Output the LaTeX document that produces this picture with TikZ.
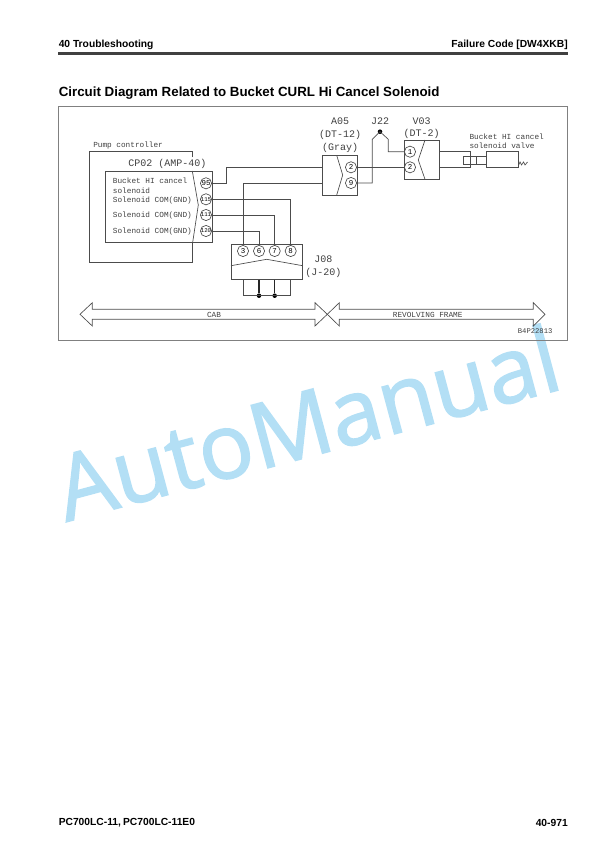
\documentclass[tikz,border=0pt]{standalone}
\usepackage{fontspec}
\setmainfont{Liberation Sans}
\newfontfamily\cadfont{Liberation Mono}
\newfontfamily\markfont[FakeBold=1.6]{Open Sans}
\definecolor{markblue}{HTML}{B3DFF5}
\begin{document}
\begin{tikzpicture}[x=0.75pt,y=-0.75pt,
  wire/.style={draw=black!70,line width=0.5pt},
  heavywire/.style={draw=black!85,line width=0.9pt},
  box/.style={draw=black!70,line width=0.6pt,inner sep=0pt},
  pin/.style={circle,draw=black!70,line width=0.5pt,minimum size=8.4pt,inner sep=0pt,font=\cadfont\fontsize{5.6}{6}\selectfont},
  widepin/.style={pin,font=\cadfont\fontsize{4.3}{5}\selectfont},
  dot/.style={circle,fill=black,minimum size=3.4pt,inner sep=0pt},
  cadbig/.style={inner sep=0pt,text=black!75,font=\cadfont\fontsize{7.5}{9}\selectfont},
  cadsmall/.style={inner sep=0pt,text=black!75,font=\cadfont\fontsize{5.8}{7}\selectfont},
  pagehead/.style={inner sep=0pt,font=\bfseries\fontsize{7.7}{10}\selectfont}]
\path [use as bounding box] (0,0) rectangle (612,864);
%% watermark
\node (watermark) [anchor=base west,rotate=15,inner sep=0pt,text=markblue,font=\markfont\fontsize{68}{70}\selectfont] at (66,522) {AutoManual};
%% page texts
\node (headl) [pagehead,anchor=west] at (58.5,44.7) {40 Troubleshooting};
\node (headr) [pagehead,anchor=east] at (568,44.7) {Failure Code [DW4XKB]};
\draw [line width=1.6pt,draw=black!75] (58,53.5) -- (568,53.5);
\node (title) [inner sep=0pt,anchor=west,font=\bfseries\fontsize{10}{12}\selectfont] at (58.5,93) {Circuit Diagram Related to Bucket CURL Hi Cancel Solenoid};
\node (footl) [pagehead,anchor=west] at (58.5,822.7) {PC700LC-11,\kern-0.5pt\ PC700LC-11E0};
\node (footr) [pagehead,anchor=east] at (568,822.7) {40-971};
\node (frame) [box,draw=black!50,line width=0.7pt,minimum width=382pt,minimum height=175.5pt] at (312.75,223) {};
%% pump controller
\node (pumplabel) [cadsmall,anchor=west] at (93,145.7) {Pump controller};
\draw [wire] (192.7,157) -- (192.7,151.7) -- (89.7,151.7) -- (89.7,262.7) -- (192.7,262.7) -- (192.7,242.3);
\node (cp02box) [box,minimum width=80.8pt,minimum height=53.5pt] at (158.85,206.65) {};
\node (cp02label) [cadbig,anchor=west] at (128,164) {CP02 (AMP-40)};
\draw [wire] (192.3,171) -- (198.3,205) -- (192.7,242.3);
\node (sig1) [cadsmall,anchor=west] at (112.7,181) {Bucket HI cancel};
\node (sig2) [cadsmall,anchor=west] at (112.7,190.7) {solenoid};
\node (sig3) [cadsmall,anchor=west] at (112.7,200) {Solenoid COM(GND)};
\node (sig4) [cadsmall,anchor=west] at (112.7,215.7) {Solenoid COM(GND)};
\node (sig5) [cadsmall,anchor=west] at (112.7,231.7) {Solenoid COM(GND)};
\node (p95) [pin] at (206,183.3) {95};
\node (p115) [widepin] at (206,199.3) {115};
\node (p111) [widepin] at (206,215) {111};
\node (p120) [widepin] at (206,231) {120};
%% J08
\node (j08box) [box,minimum width=53.8pt,minimum height=26pt] at (266.85,262) {};
\draw [wire] (231,265.7) -- (266.7,259.3) -- (302.7,265.7);
\node (p3) [pin] at (243,251) {3};
\node (p6) [pin] at (259,251) {6};
\node (p7) [pin] at (274.7,251) {7};
\node (p8) [pin] at (290.7,251) {8};
\node (j08a) [cadbig] at (323.3,259) {J08};
\node (j08b) [cadbig] at (323.3,272.7) {(J-20)};
\node (dot6) [dot] at (259,295.7) {};
\node (dot7) [dot] at (274.7,295.7) {};
\draw [wire] (j08box.south -| p3) |- (dot6.center) -- (dot7.center) -| (j08box.south -| p8);
\draw [heavywire] (j08box.south -| p6) -- (dot6);
\draw [heavywire] (j08box.south -| p7) -- (dot7);
%% A05
\node (a05box) [box,minimum width=26pt,minimum height=29.8pt] at (339.65,175.15) {};
\draw [wire] (336.7,155.3) -- (342.7,175) -- (336.7,195);
\node (a2) [pin] at (351,167.3) {2};
\node (a9) [pin] at (351,183) {9};
\node (a05a) [cadbig] at (340,121.7) {A05};
\node (a05b) [cadbig] at (340,135) {(DT-12)};
\node (a05c) [cadbig] at (340,148.3) {(Gray)};
%% J22
\node (j22label) [cadbig] at (380,121.7) {J22};
\node (j22dot) [dot] at (380,131.7) {};
\coordinate (j22l) at (372.3,139.3);
\coordinate (j22r) at (388.3,139.3);
%% V03
\node (v03box) [box,minimum width=26.5pt,minimum height=29.5pt] at (421.65,159.65) {};
\draw [wire] (425,140) -- (418.3,160) -- (425,179.3);
\node (v1) [pin] at (410,151.7) {1};
\node (v2) [pin] at (410,167.3) {2};
\node (v03a) [cadbig] at (421.7,121) {V03};
\node (v03b) [cadbig] at (421.7,134) {(DT-2)};
%% solenoid valve
\node (valvea) [cadsmall,anchor=west] at (469.3,136.7) {Bucket HI cancel};
\node (valveb) [cadsmall,anchor=west] at (469.3,145.7) {solenoid valve};
\node (valvebox) [box,minimum width=24.2pt,minimum height=12pt] at (502.15,159.7) {};
\coordinate (plugt) at (470.7,151.7);
\coordinate (plugb) at (470.7,167.3);
\draw [wire] (470.7,156) rectangle (463.3,164);
\draw [wire] (470.7,156) -- (486,156);
\draw [wire] (470.7,164) -- (486,164);
\draw [wire] (476.7,156) -- (476.7,164);
\draw [wire] (valvebox.east |- 0,165) -- (520,162) -- (521.5,165) -- (523.5,162) -- (525,165) -- (527.5,162);
%% wires
\coordinate (bend95) at (226.7,167.3);
\draw [wire] (p95) -| (bend95) -- (a05box.west |- a2);
\draw [wire] (p3) |- (a05box.west |- a9);
\draw [wire] (p115) -| (p8);
\draw [wire] (p111) -| (p7);
\draw [wire] (p120) -| (p6);
\draw [wire] (a2) -- (v2);
\draw [wire] (a9) -| (j22l) -- (j22dot.center) -- (j22r) |- (v1);
\draw [wire] (v03box.east |- v1) -- (plugt) -- (plugb) -- (v03box.east |- v2);
%% CAB and REVOLVING FRAME
\draw [wire,line join=miter] (315,309.3) -- (92.3,309.3) -- (92.3,302.7) -- (80,314.3) -- (92.3,326) -- (92.3,319.3) -- (315,319.3) -- (315,326) -- (327.3,314.3) -- (315,302.7) -- cycle;
\draw [wire,line join=miter] (339.3,309.3) -- (533.3,309.3) -- (533.3,302.7) -- (545,314.3) -- (533.3,326) -- (533.3,319.3) -- (339.3,319.3) -- (339.3,326) -- (327.3,314.3) -- (339.3,302.7) -- cycle;
\node (cab) [cadsmall] at (214,315.3) {CAB};
\node (revolving) [cadsmall] at (427.7,315.3) {REVOLVING FRAME};
\node (partno) [inner sep=0pt,text=black!75,font=\cadfont\fontsize{5.4}{6}\selectfont,anchor=east] at (552.7,330.7) {B4P22813};
\end{tikzpicture}
\end{document}
